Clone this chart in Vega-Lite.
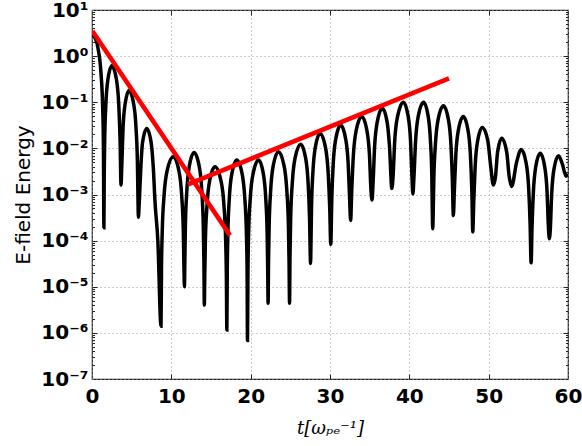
{
  "$schema": "https://vega.github.io/schema/vega-lite/v6.json",
  "width": 476,
  "height": 369,
  "autosize": "none",
  "padding": {"left": 92, "top": 10, "right": 14, "bottom": 67},
  "background": "white",
  "config": {
    "view": {"stroke": "#222", "strokeWidth": 1.2, "fill": "white"},
    "axis": {"domain": false}
  },
  "datasets": {
    "curve": [
      {"t": 0, "E": 3.0}, {"t": 0.6, "E": 2.0}, {"t": 0.75, "E": 1.5}, {"t": 1.125, "E": 0.443}, {"t": 1.35, "E": 0.0736}, {"t": 1.44, "E": 0.012}, {"t": 1.5, "E": 0.00019},
      {"t": 1.54, "E": 0.0025}, {"t": 1.6, "E": 0.0151}, {"t": 1.75, "E": 0.091}, {"t": 2.0, "E": 0.31}, {"t": 2.5, "E": 0.62}, {"t": 3.08, "E": 0.31}, {"t": 3.37, "E": 0.091}, {"t": 3.54, "E": 0.0151}, {"t": 3.66, "E": 0.0016},
      {"t": 3.76, "E": 0.0044}, {"t": 3.91, "E": 0.0266}, {"t": 4.17, "E": 0.09}, {"t": 4.67, "E": 0.18}, {"t": 5.26, "E": 0.09}, {"t": 5.555, "E": 0.0266}, {"t": 5.73, "E": 0.0044}, {"t": 5.8, "E": 0.00072}, {"t": 5.85, "E": 0.00032},
      {"t": 5.955, "E": 0.00066}, {"t": 6.16, "E": 0.004}, {"t": 6.375, "E": 0.0135}, {"t": 6.9, "E": 0.027}, {"t": 7.45, "E": 0.0135}, {"t": 7.72, "E": 0.004}, {"t": 7.95, "E": 0.00066}, {"t": 8.3, "E": 0.0001}, {"t": 8.7, "E": 0.0000014},
      {"t": 8.76, "E": 0.000026}, {"t": 8.855, "E": 0.00016}, {"t": 9.09, "E": 0.00098}, {"t": 9.475, "E": 0.0033}, {"t": 10.25, "E": 0.0066}, {"t": 10.95, "E": 0.0033}, {"t": 11.3, "E": 0.00098}, {"t": 11.51, "E": 0.00016}, {"t": 11.59, "E": 0.000026}, {"t": 11.65, "E": 0.00001},
      {"t": 11.7, "E": 0.000032}, {"t": 11.77, "E": 0.0002}, {"t": 11.955, "E": 0.0012}, {"t": 12.26, "E": 0.00407}, {"t": 12.87, "E": 0.0081}, {"t": 13.515, "E": 0.00407}, {"t": 13.84, "E": 0.0012}, {"t": 14.03, "E": 0.0002}, {"t": 14.11, "E": 0.000032}, {"t": 14.16, "E": 0.000004},
      {"t": 14.21, "E": 0.000016}, {"t": 14.29, "E": 0.000098}, {"t": 14.5, "E": 0.00059}, {"t": 14.83, "E": 0.002}, {"t": 15.5, "E": 0.004}, {"t": 16.25, "E": 0.002}, {"t": 16.63, "E": 0.00059}, {"t": 16.85, "E": 0.000098}, {"t": 16.94, "E": 0.000016}, {"t": 17.0, "E": 0.00000115},
      {"t": 17.05, "E": 0.000022}, {"t": 17.125, "E": 0.00014}, {"t": 17.31, "E": 0.00083}, {"t": 17.625, "E": 0.0028}, {"t": 18.25, "E": 0.0056}, {"t": 18.925, "E": 0.0028}, {"t": 19.26, "E": 0.00083}, {"t": 19.465, "E": 0.00014}, {"t": 19.55, "E": 0.000022}, {"t": 19.6, "E": 0.00000068},
      {"t": 19.66, "E": 0.000022}, {"t": 19.74, "E": 0.00014}, {"t": 19.95, "E": 0.00083}, {"t": 20.3, "E": 0.0028}, {"t": 21.0, "E": 0.0056}, {"t": 21.6, "E": 0.0028}, {"t": 21.9, "E": 0.00083}, {"t": 22.08, "E": 0.00014}, {"t": 22.15, "E": 0.000022}, {"t": 22.2, "E": 0.0000044},
      {"t": 22.25, "E": 0.000034}, {"t": 22.33, "E": 0.00021}, {"t": 22.525, "E": 0.00126}, {"t": 22.85, "E": 0.0043}, {"t": 23.5, "E": 0.0085}, {"t": 24.2, "E": 0.0043}, {"t": 24.55, "E": 0.00126}, {"t": 24.76, "E": 0.00021}, {"t": 24.84, "E": 0.000034}, {"t": 24.9, "E": 0.0000044},
      {"t": 24.96, "E": 0.000049}, {"t": 25.04, "E": 0.0003}, {"t": 25.25, "E": 0.0018}, {"t": 25.6, "E": 0.0062}, {"t": 26.3, "E": 0.0123}, {"t": 26.925, "E": 0.0062}, {"t": 27.24, "E": 0.0018}, {"t": 27.425, "E": 0.0003}, {"t": 27.55, "E": 0.000032},
      {"t": 27.6, "E": 0.000084}, {"t": 27.67, "E": 0.00052}, {"t": 27.85, "E": 0.0031}, {"t": 28.15, "E": 0.0106}, {"t": 28.75, "E": 0.0211}, {"t": 29.425, "E": 0.0106}, {"t": 29.76, "E": 0.0031}, {"t": 29.965, "E": 0.00052}, {"t": 30.1, "E": 0.000083},
      {"t": 30.225, "E": 0.00079}, {"t": 30.41, "E": 0.0047}, {"t": 30.725, "E": 0.016}, {"t": 31.35, "E": 0.032}, {"t": 31.975, "E": 0.016}, {"t": 32.29, "E": 0.0047}, {"t": 32.475, "E": 0.00079}, {"t": 32.6, "E": 0.000275},
      {"t": 32.74, "E": 0.0012}, {"t": 32.95, "E": 0.0072}, {"t": 33.3, "E": 0.0245}, {"t": 34.0, "E": 0.049}, {"t": 34.65, "E": 0.0245}, {"t": 34.975, "E": 0.0072}, {"t": 35.17, "E": 0.0012}, {"t": 35.3, "E": 0.00076},
      {"t": 35.43, "E": 0.0018}, {"t": 35.625, "E": 0.011}, {"t": 35.95, "E": 0.037}, {"t": 36.6, "E": 0.074}, {"t": 37.2, "E": 0.037}, {"t": 37.5, "E": 0.011}, {"t": 37.8, "E": 0.00135},
      {"t": 37.95, "E": 0.00245}, {"t": 38.16, "E": 0.0148}, {"t": 38.525, "E": 0.05}, {"t": 39.25, "E": 0.1}, {"t": 39.85, "E": 0.05}, {"t": 40.15, "E": 0.0148}, {"t": 40.33, "E": 0.00245}, {"t": 40.45, "E": 0.00103},
      {"t": 40.585, "E": 0.00245}, {"t": 40.79, "E": 0.0148}, {"t": 41.125, "E": 0.05}, {"t": 41.8, "E": 0.1}, {"t": 42.375, "E": 0.05}, {"t": 42.66, "E": 0.0148}, {"t": 42.835, "E": 0.00245}, {"t": 42.9, "E": 0.0004}, {"t": 42.95, "E": 0.00018},
      {"t": 43.0, "E": 0.000335}, {"t": 43.085, "E": 0.00207}, {"t": 43.29, "E": 0.0124}, {"t": 43.625, "E": 0.042}, {"t": 44.3, "E": 0.084}, {"t": 44.925, "E": 0.042}, {"t": 45.24, "E": 0.0124}, {"t": 45.425, "E": 0.00207}, {"t": 45.55, "E": 0.00035},
      {"t": 45.675, "E": 0.0012}, {"t": 45.86, "E": 0.0072}, {"t": 46.175, "E": 0.0245}, {"t": 46.8, "E": 0.049}, {"t": 47.4, "E": 0.0245}, {"t": 47.7, "E": 0.0072}, {"t": 47.88, "E": 0.0012}, {"t": 48.0, "E": 0.000155},
      {"t": 48.12, "E": 0.0007}, {"t": 48.3, "E": 0.0042}, {"t": 48.6, "E": 0.0143}, {"t": 49.2, "E": 0.0285}, {"t": 49.9, "E": 0.0143}, {"t": 50.25, "E": 0.0042}, {"t": 50.6, "E": 0.0016},
      {"t": 50.86, "E": 0.00245}, {"t": 51.125, "E": 0.0083}, {"t": 51.65, "E": 0.0166}, {"t": 52.275, "E": 0.0083}, {"t": 52.59, "E": 0.00245}, {"t": 52.9, "E": 0.0015},
      {"t": 53.5, "E": 0.0048}, {"t": 54.1, "E": 0.0095}, {"t": 54.725, "E": 0.0048}, {"t": 55.04, "E": 0.0014}, {"t": 55.225, "E": 0.00023}, {"t": 55.35, "E": 0.000033},
      {"t": 55.465, "E": 0.00019}, {"t": 55.64, "E": 0.00115}, {"t": 55.925, "E": 0.0039}, {"t": 56.5, "E": 0.0078}, {"t": 57.075, "E": 0.0039}, {"t": 57.36, "E": 0.00115}, {"t": 57.535, "E": 0.00019}, {"t": 57.65, "E": 0.00011},
      {"t": 57.765, "E": 0.00017}, {"t": 57.94, "E": 0.001}, {"t": 58.225, "E": 0.0035}, {"t": 58.8, "E": 0.0069}, {"t": 59.3, "E": 0.0045}, {"t": 59.75, "E": 0.0025}, {"t": 60, "E": 0.0028}
    ],
    "fits": [
      {"seg": "a", "t": 0.05, "E": 3.5}, {"seg": "a", "t": 17.4, "E": 0.00013},
      {"seg": "b", "t": 12.1, "E": 0.00166}, {"seg": "b", "t": 45.0, "E": 0.33}
    ]
  },
  "resolve": {"axis": {"x": "independent", "y": "independent"}},
  "layer": [
    {
      "data": {"name": "curve"},
      "mark": {"type": "line", "color": "#000", "strokeWidth": 3.5, "interpolate": "monotone", "clip": true},
      "encoding": {
        "x": {
          "field": "t", "type": "quantitative",
          "scale": {"domain": [0, 60], "nice": false, "zero": false},
          "axis": {
            "orient": "bottom", "values": [0, 10, 20, 30, 40, 50, 60], "ticks": false,
            "grid": true, "gridColor": "#999", "gridDash": [1, 3], "gridWidth": 1,
            "labelFont": "DejaVu Sans", "labelFontWeight": "bold", "labelFontSize": 20, "labelColor": "#000",
            "labelPadding": 7, "labelFlush": false, "labelOverlap": false,
            "title": "t[ωₚₑ⁻¹]", "titleFont": "DejaVu Serif", "titleFontStyle": "italic", "titleFontWeight": "normal",
            "titleFontSize": 18, "titleColor": "#000", "titlePadding": 13
          }
        },
        "y": {
          "field": "E", "type": "quantitative",
          "scale": {"type": "log", "domain": [1e-7, 10], "nice": false},
          "axis": {
            "orient": "left", "values": [1e-7, 1e-6, 1e-5, 1e-4, 1e-3, 1e-2, 1e-1, 1, 10], "ticks": false,
            "grid": true, "gridColor": "#999", "gridDash": [1, 3], "gridWidth": 1,
            "labelExpr": "'10' + ['⁻⁷','⁻⁶','⁻⁵','⁻⁴','⁻³','⁻²','⁻¹','⁰','¹'][round(log(datum.value)/LN10)+7]",
            "labelFont": "DejaVu Sans", "labelFontWeight": "bold", "labelFontSize": 20, "labelColor": "#000",
            "labelPadding": 4, "labelFlush": false, "labelOverlap": false,
            "title": "E-field Energy", "titleFont": "DejaVu Sans", "titleFontWeight": "normal",
            "titleFontSize": 20, "titleColor": "#000", "titlePadding": 7
          }
        }
      }
    },
    {
      "data": {"name": "fits"},
      "mark": {"type": "line", "color": "#ff0000", "strokeWidth": 4.5, "clip": true},
      "encoding": {
        "x": {"field": "t", "type": "quantitative",
          "axis": {"orient": "top", "values": [10, 20, 30, 40, 50], "labels": false, "grid": false, "ticks": true, "tickSize": -5, "tickColor": "#222", "title": null}},
        "y": {"field": "E", "type": "quantitative",
          "axis": {"orient": "right", "values": [1e-6, 1e-5, 1e-4, 1e-3, 1e-2, 1e-1, 1], "labels": false, "grid": false, "ticks": true, "tickSize": -5, "tickColor": "#222", "title": null}},
        "detail": {"field": "seg"}
      }
    },
    {
      "data": {"name": "fits"},
      "mark": {"type": "line", "opacity": 0},
      "encoding": {
        "x": {"field": "t", "type": "quantitative",
          "axis": {"orient": "bottom", "values": [10, 20, 30, 40, 50], "labels": false, "grid": false, "ticks": true, "tickSize": -5, "tickColor": "#222", "title": null}},
        "y": {"field": "E", "type": "quantitative",
          "axis": {"orient": "left", "values": [1e-6, 1e-5, 1e-4, 1e-3, 1e-2, 1e-1, 1], "labels": false, "grid": false, "ticks": true, "tickSize": -5, "tickColor": "#222", "title": null}},
        "detail": {"field": "seg"}
      }
    },
    {
      "data": {"name": "fits"},
      "mark": {"type": "line", "opacity": 0},
      "encoding": {
        "x": {"field": "t", "type": "quantitative", "axis": null},
        "y": {"field": "E", "type": "quantitative",
          "axis": {"orient": "left", "values": [2e-7,3e-7,4e-7,5e-7,6e-7,7e-7,8e-7,9e-7,2e-6,3e-6,4e-6,5e-6,6e-6,7e-6,8e-6,9e-6,2e-5,3e-5,4e-5,5e-5,6e-5,7e-5,8e-5,9e-5,2e-4,3e-4,4e-4,5e-4,6e-4,7e-4,8e-4,9e-4,2e-3,3e-3,4e-3,5e-3,6e-3,7e-3,8e-3,9e-3,2e-2,3e-2,4e-2,5e-2,6e-2,7e-2,8e-2,9e-2,0.2,0.3,0.4,0.5,0.6,0.7,0.8,0.9,2,3,4,5,6,7,8,9], "labels": false, "grid": false, "ticks": true, "tickSize": -2.5, "tickColor": "#222", "title": null}},
        "detail": {"field": "seg"}
      }
    },
    {
      "data": {"name": "fits"},
      "mark": {"type": "line", "opacity": 0},
      "encoding": {
        "x": {"field": "t", "type": "quantitative", "axis": null},
        "y": {"field": "E", "type": "quantitative",
          "axis": {"orient": "right", "values": [2e-7,3e-7,4e-7,5e-7,6e-7,7e-7,8e-7,9e-7,2e-6,3e-6,4e-6,5e-6,6e-6,7e-6,8e-6,9e-6,2e-5,3e-5,4e-5,5e-5,6e-5,7e-5,8e-5,9e-5,2e-4,3e-4,4e-4,5e-4,6e-4,7e-4,8e-4,9e-4,2e-3,3e-3,4e-3,5e-3,6e-3,7e-3,8e-3,9e-3,2e-2,3e-2,4e-2,5e-2,6e-2,7e-2,8e-2,9e-2,0.2,0.3,0.4,0.5,0.6,0.7,0.8,0.9,2,3,4,5,6,7,8,9], "labels": false, "grid": false, "ticks": true, "tickSize": -2.5, "tickColor": "#222", "title": null}},
        "detail": {"field": "seg"}
      }
    }
  ]
}
